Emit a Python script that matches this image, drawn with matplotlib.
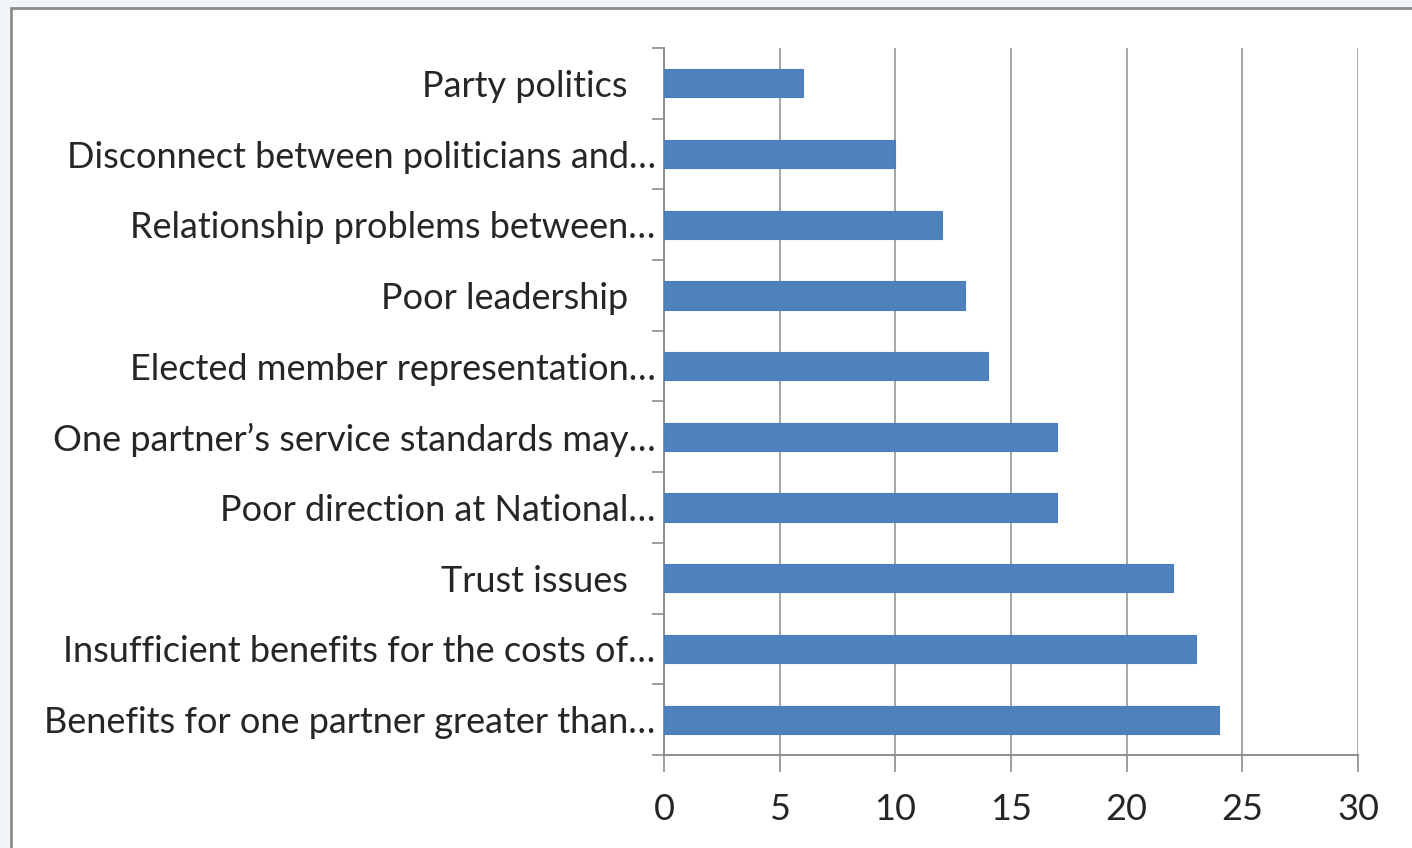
import matplotlib
matplotlib.use("Agg")
import matplotlib.pyplot as plt
from matplotlib.patches import Rectangle
from matplotlib.ticker import FixedLocator

categories = [
    "Benefits for one partner greater than…",
    "Insufficient benefits for the costs of…",
    "Trust issues   ",
    "Poor direction at National…",
    "One partner’s service standards may…",
    "Elected member representation…",
    "Poor leadership   ",
    "Relationship problems between…",
    "Disconnect between politicians and…",
    "Party politics   ",
]
values = [24, 23, 22, 17, 17, 14, 13, 12, 10, 6]
x_ticks = [0, 5, 10, 15, 20, 25, 30]

plt.rcParams['font.family'] = ['Lato', 'DejaVu Sans']

W, H = 1412, 848
fig = plt.figure(figsize=(W / 100, H / 100), dpi=100)
fig.patch.set_facecolor('#F2F5FA')

bg = fig.add_axes([0, 0, 1, 1], zorder=-5)
bg.set_xlim(0, W)
bg.set_ylim(H, 0)
bg.axis('off')
bg.add_patch(Rectangle((11, 8), W, H, facecolor='white', edgecolor='#8C8C8C',
                       linewidth=2.0))

ax = fig.add_axes([664 / W, 1 - 755 / H, (1358 - 664) / W, (755 - 48) / H], zorder=1)
ax.set_facecolor('none')
ypos = list(range(len(categories)))
ax.barh(ypos, values, height=0.4, color='#4F81BD', edgecolor='#4A7EBB',
        linewidth=0.8, zorder=3)

ax.set_xlim(0, 30)
ax.set_ylim(-0.5, len(categories) - 0.5)
ax.xaxis.set_major_locator(FixedLocator(x_ticks))
ax.set_xticklabels([str(t) for t in x_ticks])
ax.set_yticks(ypos)
ax.set_yticklabels(categories)
ax.yaxis.set_minor_locator(FixedLocator([i - 0.5 for i in range(len(categories) + 1)]))

ax.tick_params(axis='y', which='major', length=0, pad=6, labelsize=26, labelcolor='#262626')
ax.tick_params(axis='y', which='minor', length=9, width=1.2, color='#8C8C8C', direction='out')
ax.tick_params(axis='x', which='major', length=12, width=1.2, color='#8C8C8C', direction='out',
               pad=15, labelsize=26, labelcolor='#262626')

ax.grid(axis='x', color='#A6A6A6', linewidth=1.4, zorder=1)
ax.set_axisbelow(True)
for s in ['top', 'right']:
    ax.spines[s].set_visible(False)
for s in ['left', 'bottom']:
    ax.spines[s].set_color('#8C8C8C')
    ax.spines[s].set_linewidth(1.4)

fig.savefig('out.png', dpi=100, facecolor=fig.get_facecolor())
